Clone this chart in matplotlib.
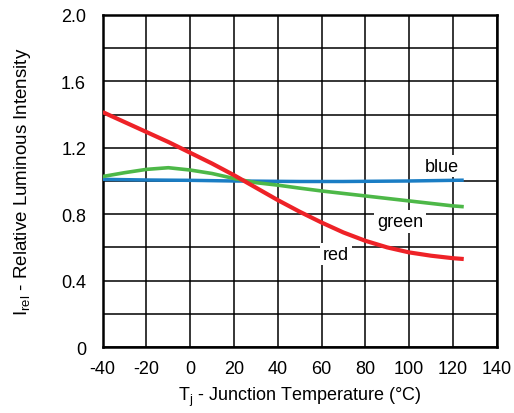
import matplotlib.pyplot as plt
import numpy as np

plt.rcParams['font.family'] = ['Liberation Sans', 'DejaVu Sans']
plt.rcParams['mathtext.fontset'] = 'custom'
plt.rcParams['mathtext.rm'] = 'Liberation Sans'
plt.rcParams['mathtext.it'] = 'Liberation Sans:italic'
plt.rcParams['axes.unicode_minus'] = False

# junction temperature (°C)
temps = [-40, -30, -20, -10, 0, 10, 20, 30, 40, 50, 60, 70, 80, 90, 100, 110, 120, 125]

# relative luminous intensity per colour
red = [1.415, 1.355, 1.295, 1.235, 1.17, 1.105, 1.035, 0.96, 0.885, 0.815, 0.75, 0.69,
       0.64, 0.60, 0.57, 0.55, 0.535, 0.53]
green = [1.027, 1.05, 1.07, 1.08, 1.066, 1.045, 1.015, 0.99, 0.975, 0.957, 0.94, 0.925,
         0.91, 0.895, 0.88, 0.865, 0.85, 0.845]
blue = [1.01, 1.008, 1.006, 1.005, 1.004, 1.002, 1.0, 0.999, 0.998, 0.997, 0.997, 0.997,
        0.998, 0.999, 1.0, 1.002, 1.004, 1.005]

fig = plt.figure(figsize=(5.14, 4.14), dpi=100)
ax = fig.add_axes([0.1998, 0.1594, 0.7663, 0.802])

ax.set_xlim(-40, 140)
ax.set_ylim(0, 2.0)
ax.set_xticks(np.arange(-40, 141, 20))
ax.set_yticks([0, 0.4, 0.8, 1.2, 1.6, 2.0])
ax.set_yticklabels(['0', '0.4', '0.8', '1.2', '1.6', '2.0'])
ax.set_yticks(np.arange(0.2, 2.0, 0.4), minor=True)
ax.grid(True, which='both', color='black', linewidth=1.1)
ax.tick_params(which='both', length=0, labelsize=13, pad=9)
ax.tick_params(axis='y', pad=12)
for s in ax.spines.values():
    s.set_linewidth(1.8)
ax.set_axisbelow(True)

ax.plot(temps, blue, color='#1a7dc4', lw=2.5, solid_capstyle='butt', zorder=3)
ax.plot(temps, green, color='#4db848', lw=2.6, solid_capstyle='butt', zorder=4)
ax.plot(temps, red, color='#ee2227', lw=3.0, solid_capstyle='butt', zorder=5)

box = dict(facecolor='white', edgecolor='none', pad=2)
ax.text(114.8, 1.09, 'blue', ha='center', va='center', fontsize=13, bbox=box, zorder=6)
ax.text(95.8, 0.755, 'green', ha='center', va='center', fontsize=13, bbox=box, zorder=6)
ax.text(66.5, 0.56, 'red', ha='center', va='center', fontsize=13, bbox=box, zorder=6)

ax.set_xlabel(r'T$_{\mathrm{j}}$ - Junction Temperature (°C)', fontsize=13, labelpad=6)
ax.set_ylabel(r'I$_{\mathrm{rel}}$ - Relative Luminous Intensity', fontsize=13.5, labelpad=20)

fig.savefig('out.png', dpi=100)
